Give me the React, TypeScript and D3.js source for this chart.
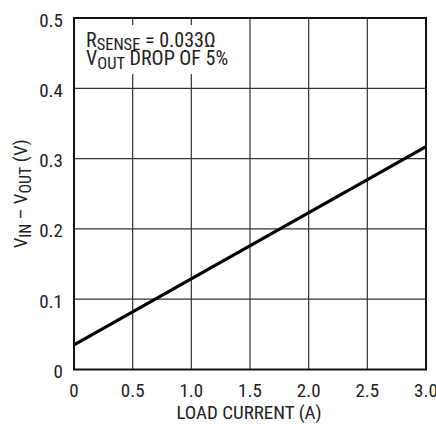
import React from "react";
import * as d3 from "d3";

const loadCurrent = [0, 3.0];
const voltageDrop = [0.035, 0.317];
const xTicks = [0, 0.5, 1.0, 1.5, 2.0, 2.5, 3.0];
const xTickLabels = ["0", "0.5", "1.0", "1.5", "2.0", "2.5", "3.0"];
const yTicks = [0, 0.1, 0.2, 0.3, 0.4, 0.5];
const yTickLabels = ["0", "0.1", "0.2", "0.3", "0.4", "0.5"];

const W = 436, H = 424;
const L = 74, R = 426, T = 18, B = 369.5;
const FONT = "'Liberation Sans Narrow', 'Roboto Condensed', 'Arial Narrow', 'Liberation Sans', sans-serif";
const FS = 19;
const SUB = 16;
const TXT = "#222";

export default function App() {
  const x = d3.scaleLinear().domain([0, 3]).range([L, R]);
  const y = d3.scaleLinear().domain([0, 0.5]).range([B, T]);
  const pts: [number, number][] = loadCurrent.map((c, i) => [c, voltageDrop[i]]);
  const line = d3.line<[number, number]>().x(d => x(d[0])).y(d => y(d[1]));
  return (
    <svg width={W} height={H} style={{ position: "absolute", left: 0, top: 0, background: "#fff" }} fontFamily={FONT}>
      <rect x={0} y={0} width={W} height={H} fill="#fff" />
      {xTicks.slice(1, -1).map(t => (
        <line key={"gx" + t} x1={x(t)} x2={x(t)} y1={T} y2={B} stroke="#333" strokeWidth={1.2} />
      ))}
      {yTicks.slice(1, -1).map(t => (
        <line key={"gy" + t} x1={L} x2={R} y1={y(t)} y2={y(t)} stroke="#333" strokeWidth={1.2} />
      ))}
      <rect x={76} y={25} width={160} height={49} fill="#fff" />
      <text x={86} y={46.5} fontSize={20} fill={TXT}>
        R<tspan fontSize={16.5} dy={3.5}>SENSE</tspan><tspan dy={-3.5}> = 0.033Ω</tspan>
      </text>
      <text x={86} y={65} fontSize={20} fill={TXT}>
        V<tspan fontSize={16.5} dy={3.5}>OUT</tspan><tspan dy={-3.5}> DROP OF 5%</tspan>
      </text>
      <path d={line(pts) || ""} fill="none" stroke="#000" strokeWidth={3.2} />
      <rect x={L} y={T} width={R - L} height={B - T} fill="none" stroke="#111" strokeWidth={2} />
      {yTicks.map((t, i) => (
        <text key={"yl" + t} x={63} y={y(t) + 8.5} fontSize={FS} textAnchor="end" fill={TXT}>{yTickLabels[i]}</text>
      ))}
      {xTicks.map((t, i) => (
        <text key={"xl" + t} x={x(t)} y={397} fontSize={FS} textAnchor="middle" fill={TXT}>{xTickLabels[i]}</text>
      ))}
      <text x={(L + R) / 2 - 1} y={419} fontSize={FS} textAnchor="middle" fill={TXT}>LOAD CURRENT (A)</text>
      <text transform={`translate(27, ${(T + B) / 2}) rotate(-90)`} fontSize={FS} textAnchor="middle" fill={TXT}>
        V<tspan fontSize={SUB} dy={4}>IN</tspan><tspan dy={-4}> – V</tspan><tspan fontSize={SUB} dy={4}>OUT</tspan><tspan dy={-4}> (V)</tspan>
      </text>
    </svg>
  );
}
